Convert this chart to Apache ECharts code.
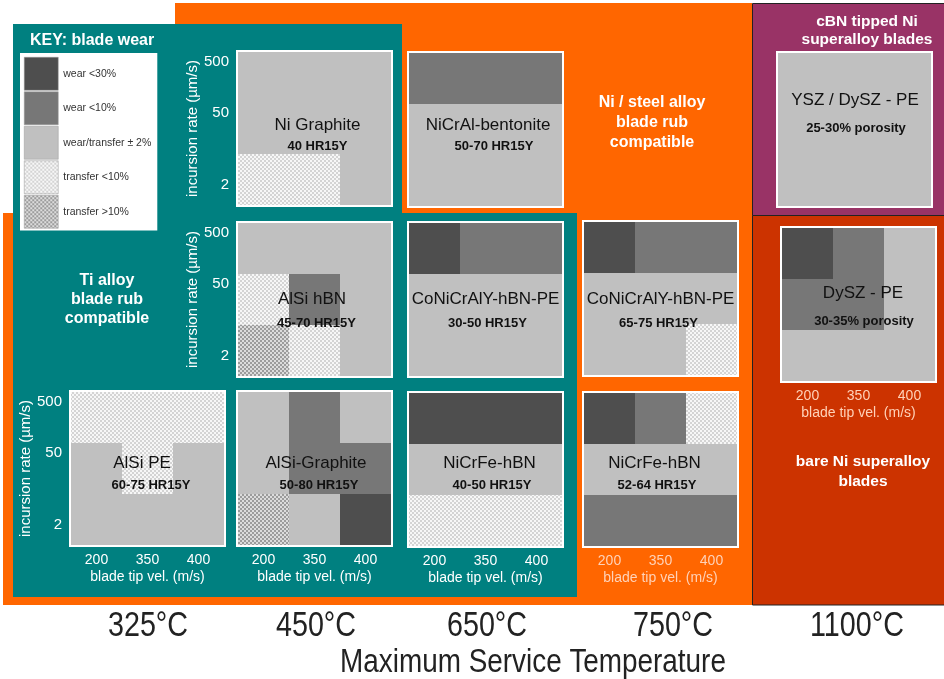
<!DOCTYPE html>
<html><head><meta charset="utf-8">
<script src="https://cdn.jsdelivr.net/npm/echarts@6/dist/echarts.min.js"></script>
<style>html,body{margin:0;padding:0;background:#fff}#c{width:944px;height:679px}</style>
</head><body><div id="c"></div>
<script>
// ---------------- data ----------------
const wearKeys = ['wear <30%', 'wear <10%', 'wear/transfer ± 2%', 'transfer <10%', 'transfer >10%'];
const bladeTipVel = ['200', '350', '400'];
const incursionRate = ['2', '50', '500'];
const incursionTicks = [2, 50, 500];
const temperatures = ['325°C', '450°C', '650°C', '750°C', '1100°C'];

// wear maps: rows from 500 µm/s (top) to 2 µm/s (bottom); columns 200 / 350 / 400 m/s
// codes index into wearKeys
const niGraphite      = [[2,2,2],[2,2,2],[3,3,2]];
const nicralBentonite = [[1,1,1],[2,2,2],[2,2,2]];
const yszDysz         = [[2,2,2],[2,2,2],[2,2,2]];
const alsiHbn         = [[2,2,2],[3,1,2],[4,3,2]];
const conicraly3050   = [[0,1,1],[2,2,2],[2,2,2]];
const conicraly6575   = [[0,1,1],[2,2,2],[2,2,3]];
const dyszPe          = [[0,1,2],[1,1,2],[2,2,2]];
const alsiPe          = [[3,3,3],[2,3,2],[2,2,2]];
const alsiGraphite    = [[2,1,2],[2,1,1],[4,2,0]];
const nicrfe4050      = [[0,0,0],[2,2,2],[3,3,3]];
const nicrfe5264      = [[0,1,3],[2,2,2],[1,1,1]];

const mapNames  = ['Ni Graphite','NiCrAl-bentonite','YSZ / DySZ - PE','AlSi hBN','CoNiCrAlY-hBN-PE','CoNiCrAlY-hBN-PE','DySZ - PE','AlSi PE','AlSi-Graphite','NiCrFe-hBN','NiCrFe-hBN'];
const mapGrades = ['40 HR15Y','50-70 HR15Y','25-30% porosity','45-70 HR15Y','30-50 HR15Y','65-75 HR15Y','30-35% porosity','60-75 HR15Y','50-80 HR15Y','40-50 HR15Y','52-64 HR15Y'];
const mapCells  = [niGraphite, nicralBentonite, yszDysz, alsiHbn, conicraly3050, conicraly6575, dyszPe, alsiPe, alsiGraphite, nicrfe4050, nicrfe5264];

// ---------------- layout (positions / styles) ----------------
// [left, top, nameDx, nameDy, subDx, subDy, showYAxis, showXAxis, xLabelColor]
const layout = [
  [236, 50,   3, 75,   3,  96, true,  false, '#fff'],
  [407, 51, 2.5, 74, 8.5,  95, false, false, '#fff'],
  [776, 51, 0.5, 49, 1.5,  77, false, false, '#fff'],
  [236,221,-2.5, 78,   2, 102, true,  false, '#fff'],
  [407,221,   0, 78,   2, 102, false, false, '#fff'],
  [582,220,   0, 79,  -2, 103, false, false, '#fff'],
  [780,226, 4.5, 67, 5.5,  95, false, true,  '#ffd2b8'],
  [ 69,390,-5.5, 73, 3.5,  95, true,  true,  '#fff'],
  [236,390, 1.5, 73, 4.5,  95, false, true,  '#fff'],
  [407,391,   4, 72, 6.5,  94, false, true,  '#fff'],
  [582,391,  -6, 72,-3.5,  94, false, true,  '#ffd2b8']
];
const tempX = [148, 316, 487, 673, 857];
const SIZE = 157;
const FONT = '"Liberation Sans", Arial, sans-serif';

function checker(a, b, cell) {
  const cv = document.createElement('canvas');
  cv.width = cv.height = cell * 2;
  const g = cv.getContext('2d');
  g.fillStyle = a; g.fillRect(0, 0, cell * 2, cell * 2);
  g.fillStyle = b; g.fillRect(0, 0, cell, cell); g.fillRect(cell, cell, cell, cell);
  return { image: cv, repeat: 'repeat' };
}
const fills = ['#4e4e4e', '#777777', '#c0c0c0', checker('#f7f7f7', '#d4d4d4', 2), checker('#dcdcdc', '#9c9c9c', 2)];

function renderCell(params, api) {
  const c = api.coord([api.value(0), api.value(1)]);
  const s = api.size([1, 1]);
  const x0 = Math.round(c[0] - s[0] / 2), x1 = Math.round(c[0] + s[0] / 2);
  const y0 = Math.round(c[1] - s[1] / 2), y1 = Math.round(c[1] + s[1] / 2);
  return { type: 'rect', shape: { x: x0, y: y0, width: x1 - x0, height: y1 - y0 }, style: api.style() };
}

const grids = [], xAxes = [], yAxes = [], series = [], texts = [];
mapCells.forEach((cells, i) => {
  const [L, T, ndx, ndy, sdx, sdy, showY, showX, xc] = layout[i];
  grids.push({ left: L + 2, top: T + 2, width: SIZE - 4, height: SIZE - 4, show: true,
    backgroundColor: '#c0c0c0', borderColor: '#ffffff', borderWidth: 4, z: 3 });
  xAxes.push({ type: 'category', gridIndex: i, data: bladeTipVel, z: 5,
    axisLine: { show: false }, axisTick: { show: false }, splitLine: { show: false },
    axisLabel: { show: showX, color: xc, fontSize: 14, margin: 8, fontFamily: FONT },
    name: showX ? 'blade tip vel. (m/s)' : '', nameLocation: 'middle', nameGap: 25,
    nameTextStyle: { color: xc, fontSize: 14, fontFamily: FONT } });
  yAxes.push({ type: 'category', gridIndex: i, data: incursionRate, show: false });
  yAxes.push({ type: 'log', gridIndex: i, min: 0.82, max: 760, position: 'left', z: 5,
    axisLine: { show: false }, axisTick: { show: false }, splitLine: { show: false },
    axisLabel: { show: showY, customValues: incursionTicks, color: '#fff', fontSize: 15, margin: 9, fontFamily: FONT },
    name: showY ? 'incursion rate (µm/s)' : '', nameLocation: 'middle', nameRotate: 90, nameGap: 37,
    nameTextStyle: { color: '#fff', fontSize: 15, fontFamily: FONT } });
  wearKeys.forEach((key, k) => {
    const data = [];
    cells.forEach((row, r) => row.forEach((code, col) => { if (code === k) data.push([col, 2 - r, code]); }));
    if (!data.length) return;
    series.push({ type: 'custom', name: key, xAxisIndex: i, yAxisIndex: 2 * i, z: 4, silent: true,
      renderItem: renderCell, itemStyle: { color: fills[k] }, data: data });
  });
  const cx = L + SIZE / 2;
  texts.push({ type: 'text', z: 20, x: cx + ndx, y: T + ndy, style: { text: mapNames[i], fill: '#111',
    font: '17px ' + FONT, align: 'center', verticalAlign: 'middle' } });
  texts.push({ type: 'text', z: 20, x: cx + sdx, y: T + sdy, style: { text: mapGrades[i], fill: '#111',
    font: 'bold 13px ' + FONT, align: 'center', verticalAlign: 'middle' } });
});

const white = (txt, x, y, lh, size) => ({ type: 'text', z: 20, x: x, y: y,
  style: { text: txt, fill: '#fff', font: 'bold ' + (size || 16) + 'px ' + FONT, align: 'center', verticalAlign: 'middle', lineHeight: lh } });

const bg = [
  { type: 'rect', z: 0, shape: { x: 0, y: 0, width: 944, height: 679 }, style: { fill: '#fff' } },
  { type: 'polygon', z: 1, shape: { points: [[175,3],[752,3],[752,605],[3,605],[3,213],[175,213]] }, style: { fill: '#FF6600' } },
  { type: 'polygon', z: 2, shape: { points: [[13,24],[402,24],[402,213],[577,213],[577,597],[13,597]] }, style: { fill: '#008080' } },
  { type: 'rect', z: 2, shape: { x: 752.5, y: 3.5, width: 192, height: 212 }, style: { fill: '#993366', stroke: '#222', lineWidth: 1 } },
  { type: 'rect', z: 2, shape: { x: 752.5, y: 215.5, width: 192, height: 389.5 }, style: { fill: '#CC3300', stroke: '#222', lineWidth: 1 } },
  { type: 'text', z: 20, x: 30, y: 41, style: { text: 'KEY: blade wear', fill: '#fff', font: 'bold 16px ' + FONT, align: 'left', verticalAlign: 'middle' } },
  white('Ti alloy\nblade rub\ncompatible', 107, 300, 19),
  white('Ni / steel alloy\nblade rub\ncompatible', 652, 123, 20),
  white('cBN tipped Ni\nsuperalloy blades', 867, 31, 18, 15.5),
  white('bare Ni superalloy\nblades', 863, 472, 20, 15.5)
];
temperatures.forEach((t, i) => bg.push({ type: 'text', z: 20, x: tempX[i], y: 626, scaleX: 0.82,
  style: { text: t, fill: '#222', font: '35px ' + FONT, align: 'center', verticalAlign: 'middle' } }));
bg.push({ type: 'text', z: 20, x: 533, y: 663, scaleX: 0.82, style: { text: 'Maximum Service Temperature', fill: '#222',
  font: '34px ' + FONT, align: 'center', verticalAlign: 'middle' } });

const chart = echarts.init(document.getElementById('c'), null, { renderer: 'canvas' });
chart.setOption({
  animation: false,
  backgroundColor: '#fff',
  grid: grids, xAxis: xAxes, yAxis: yAxes, series: series,
  legend: { data: wearKeys.map(n => ({ name: n, icon: 'rect' })), orient: 'vertical', left: 20, top: 53,
    itemWidth: 34, itemHeight: 33, itemGap: 1, backgroundColor: '#fff', padding: [4, 6, 2, 4],
    selectedMode: false, z: 6, textStyle: { fontSize: 10.5, color: '#333', fontFamily: FONT },
    itemStyle: { borderColor: '#999', borderWidth: 0.5 } },
  graphic: { elements: bg.concat(texts) }
});
</script></body></html>
